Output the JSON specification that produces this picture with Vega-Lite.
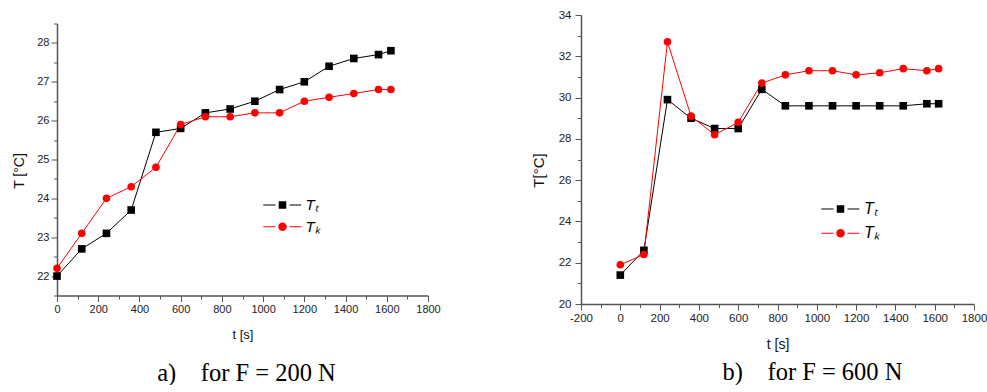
{
  "$schema": "https://vega.github.io/schema/vega-lite/v6.json",
  "padding": {"left": 12, "top": 9, "right": 0, "bottom": 0},
  "datasets": {
    "a": [
      {"t": 0, "T": 22.0, "series": "Tₜ"}, {"t": 120, "T": 22.7, "series": "Tₜ"}, {"t": 240, "T": 23.1, "series": "Tₜ"},
      {"t": 360, "T": 23.7, "series": "Tₜ"}, {"t": 480, "T": 25.7, "series": "Tₜ"}, {"t": 600, "T": 25.8, "series": "Tₜ"},
      {"t": 720, "T": 26.2, "series": "Tₜ"}, {"t": 840, "T": 26.3, "series": "Tₜ"}, {"t": 960, "T": 26.5, "series": "Tₜ"},
      {"t": 1080, "T": 26.8, "series": "Tₜ"}, {"t": 1200, "T": 27.0, "series": "Tₜ"}, {"t": 1320, "T": 27.4, "series": "Tₜ"},
      {"t": 1440, "T": 27.6, "series": "Tₜ"}, {"t": 1560, "T": 27.7, "series": "Tₜ"}, {"t": 1620, "T": 27.8, "series": "Tₜ"},
      {"t": 0, "T": 22.2, "series": "Tₖ"}, {"t": 120, "T": 23.1, "series": "Tₖ"}, {"t": 240, "T": 24.0, "series": "Tₖ"},
      {"t": 360, "T": 24.3, "series": "Tₖ"}, {"t": 480, "T": 24.8, "series": "Tₖ"}, {"t": 600, "T": 25.9, "series": "Tₖ"},
      {"t": 720, "T": 26.1, "series": "Tₖ"}, {"t": 840, "T": 26.1, "series": "Tₖ"}, {"t": 960, "T": 26.2, "series": "Tₖ"},
      {"t": 1080, "T": 26.2, "series": "Tₖ"}, {"t": 1200, "T": 26.5, "series": "Tₖ"}, {"t": 1320, "T": 26.6, "series": "Tₖ"},
      {"t": 1440, "T": 26.7, "series": "Tₖ"}, {"t": 1560, "T": 26.8, "series": "Tₖ"}, {"t": 1620, "T": 26.8, "series": "Tₖ"}
    ],
    "b": [
      {"t": 0, "T": 21.4, "series": "Tₜ"}, {"t": 120, "T": 22.6, "series": "Tₜ"}, {"t": 240, "T": 29.9, "series": "Tₜ"},
      {"t": 360, "T": 29.0, "series": "Tₜ"}, {"t": 480, "T": 28.5, "series": "Tₜ"}, {"t": 600, "T": 28.5, "series": "Tₜ"},
      {"t": 720, "T": 30.4, "series": "Tₜ"}, {"t": 840, "T": 29.6, "series": "Tₜ"}, {"t": 960, "T": 29.6, "series": "Tₜ"},
      {"t": 1080, "T": 29.6, "series": "Tₜ"}, {"t": 1200, "T": 29.6, "series": "Tₜ"}, {"t": 1320, "T": 29.6, "series": "Tₜ"},
      {"t": 1440, "T": 29.6, "series": "Tₜ"}, {"t": 1560, "T": 29.7, "series": "Tₜ"}, {"t": 1620, "T": 29.7, "series": "Tₜ"},
      {"t": 0, "T": 21.9, "series": "Tₖ"}, {"t": 120, "T": 22.4, "series": "Tₖ"}, {"t": 240, "T": 32.7, "series": "Tₖ"},
      {"t": 360, "T": 29.1, "series": "Tₖ"}, {"t": 480, "T": 28.2, "series": "Tₖ"}, {"t": 600, "T": 28.8, "series": "Tₖ"},
      {"t": 720, "T": 30.7, "series": "Tₖ"}, {"t": 840, "T": 31.1, "series": "Tₖ"}, {"t": 960, "T": 31.3, "series": "Tₖ"},
      {"t": 1080, "T": 31.3, "series": "Tₖ"}, {"t": 1200, "T": 31.1, "series": "Tₖ"}, {"t": 1320, "T": 31.2, "series": "Tₖ"},
      {"t": 1440, "T": 31.4, "series": "Tₖ"}, {"t": 1560, "T": 31.3, "series": "Tₖ"}, {"t": 1620, "T": 31.4, "series": "Tₖ"}
    ]
  },
  "bounds": "flush",
  "center": true,
  "spacing": 153,
  "hconcat": [
    {
      "width": 371,
      "height": 272,
      "data": {"name": "a"},
      "title": {"text": "a)\u00a0\u00a0\u00a0\u00a0for F = 200 N", "orient": "bottom", "offset": 20, "dx": 4, "font": "Liberation Serif", "fontSize": 24.5, "fontWeight": "normal", "color": "#000"},
      "encoding": {
        "x": {"field": "t", "type": "quantitative", "scale": {"domain": [0, 1800], "nice": false, "zero": false},
          "axis": {"values": [0,100,200,300,400,500,600,700,800,900,1000,1100,1200,1300,1400,1500,1600,1700,1800],
            "labelExpr": "datum.value % 200 === 0 ? '' + datum.value : ''",
            "tickSize": {"condition": {"test": "datum.value % 200 === 0", "value": 6}, "value": 3.5},
            "labelPadding": 2, "labelFontSize": 11, "title": "t [s]", "titleFontSize": 13, "titlePadding": 14}},
        "y": {"field": "T", "type": "quantitative", "scale": {"domain": [21.5, 28.5], "nice": false, "zero": false},
          "axis": {"values": [21.5,22,22.5,23,23.5,24,24.5,25,25.5,26,26.5,27,27.5,28,28.5],
            "labelExpr": "datum.value % 1 === 0 ? '' + datum.value : ''",
            "tickSize": {"condition": {"test": "datum.value % 1 === 0", "value": 6}, "value": 3.5},
            "labelPadding": 2, "labelFontSize": 11, "title": "T [°C]", "titleFontSize": 14, "titlePadding": 10, "titleY": 147}}
      },
      "layer": [
        {"mark": {"type": "line", "strokeWidth": 1},
          "encoding": {"color": {"field": "series", "type": "nominal", "scale": {"domain": ["Tₜ", "Tₖ"], "range": ["#000000", "#ff0000"]}, "legend": null}}},
        {"mark": {"type": "point", "filled": true, "size": 58, "opacity": 1},
          "encoding": {
            "color": {"field": "series", "type": "nominal", "scale": {"domain": ["Tₜ", "Tₖ"], "range": ["#000000", "#ff0000"]}, "legend": null},
            "shape": {"field": "series", "type": "nominal", "scale": {"domain": ["Tₜ", "Tₖ"], "range": ["square", "circle"]}, "legend": null}}},
        {"transform": [{"filter": "false"}],
          "mark": {"type": "point", "filled": true, "size": 64, "opacity": 1},
          "encoding": {
            "color": {"field": "series", "type": "nominal", "scale": {"domain": ["Tₜ", "Tₖ"], "range": ["#000000", "#ff0000"]},
              "legend": {"orient": "none", "legendX": 218, "legendY": 174, "title": null, "padding": 0, "symbolSize": 64, "symbolStrokeWidth": 0, "labelOffset": 15.5, "rowPadding": 5.7, "labelFont": "Liberation Sans", "labelFontStyle": "italic", "labelFontSize": 15, "labelColor": "#000"}},
            "shape": {"field": "series", "type": "nominal", "scale": {"domain": ["Tₜ", "Tₖ"], "range": [
              "M-4.8,-0.125H-1.75V0.125H-4.8Z M1.75,-0.125H4.7V0.125H1.75Z M-0.94,-0.94H0.94V0.94H-0.94Z",
              "M-4.8,-0.125H-1.75V0.125H-4.8Z M1.75,-0.125H4.7V0.125H1.75Z M-1.06,0A1.06,1.06,0,1,0,1.06,0A1.06,1.06,0,1,0,-1.06,0Z"]},
              "legend": {"orient": "none", "legendX": 218, "legendY": 174, "title": null, "padding": 0, "symbolSize": 64, "symbolStrokeWidth": 0, "labelOffset": 15.5, "rowPadding": 5.7, "labelFont": "Liberation Sans", "labelFontStyle": "italic", "labelFontSize": 15, "labelColor": "#000"}}}}
      ],
      "resolve": {"scale": {"color": "independent", "shape": "independent"}}
    },
    {
      "width": 393,
      "height": 289,
      "data": {"name": "b"},
      "title": {"text": "b)\u00a0\u00a0\u00a0\u00a0for F = 600 N", "orient": "bottom", "offset": 9, "dx": 35, "font": "Liberation Serif", "fontSize": 24.5, "fontWeight": "normal", "color": "#000"},
      "encoding": {
        "x": {"field": "t", "type": "quantitative", "scale": {"domain": [-200, 1800], "nice": false, "zero": false},
          "axis": {"values": [-200,-100,0,100,200,300,400,500,600,700,800,900,1000,1100,1200,1300,1400,1500,1600,1700,1800],
            "labelExpr": "datum.value % 200 === 0 ? '' + datum.value : ''",
            "tickSize": {"condition": {"test": "datum.value % 200 === 0", "value": 6}, "value": 3.5},
            "labelPadding": 2, "labelFontSize": 11.5, "title": "t [s]", "titleFontSize": 14, "titlePadding": 14}},
        "y": {"field": "T", "type": "quantitative", "scale": {"domain": [20, 34], "nice": false, "zero": false},
          "axis": {"values": [20,21,22,23,24,25,26,27,28,29,30,31,32,33,34],
            "labelExpr": "datum.value % 2 === 0 ? '' + datum.value : ''",
            "tickSize": {"condition": {"test": "datum.value % 2 === 0", "value": 6}, "value": 3.5},
            "labelPadding": 4, "labelFontSize": 11.5, "title": "T[°C]", "titleFontSize": 15, "titlePadding": 12, "titleY": 155}}
      },
      "layer": [
        {"mark": {"type": "line", "strokeWidth": 1},
          "encoding": {"color": {"field": "series", "type": "nominal", "scale": {"domain": ["Tₜ", "Tₖ"], "range": ["#000000", "#ff0000"]}, "legend": null}}},
        {"mark": {"type": "point", "filled": true, "size": 58, "opacity": 1},
          "encoding": {
            "color": {"field": "series", "type": "nominal", "scale": {"domain": ["Tₜ", "Tₖ"], "range": ["#000000", "#ff0000"]}, "legend": null},
            "shape": {"field": "series", "type": "nominal", "scale": {"domain": ["Tₜ", "Tₖ"], "range": ["square", "circle"]}, "legend": null}}},
        {"transform": [{"filter": "false"}],
          "mark": {"type": "point", "filled": true, "size": 64, "opacity": 1},
          "encoding": {
            "color": {"field": "series", "type": "nominal", "scale": {"domain": ["Tₜ", "Tₖ"], "range": ["#000000", "#ff0000"]},
              "legend": {"orient": "none", "legendX": 251.5, "legendY": 186, "title": null, "padding": 0, "symbolSize": 64, "symbolStrokeWidth": 0, "labelOffset": 15.5, "rowPadding": 8.3, "labelFont": "Liberation Sans", "labelFontStyle": "italic", "labelFontSize": 16, "labelColor": "#000"}},
            "shape": {"field": "series", "type": "nominal", "scale": {"domain": ["Tₜ", "Tₖ"], "range": [
              "M-4.8,-0.125H-1.75V0.125H-4.8Z M1.75,-0.125H4.7V0.125H1.75Z M-0.94,-0.94H0.94V0.94H-0.94Z",
              "M-4.8,-0.125H-1.75V0.125H-4.8Z M1.75,-0.125H4.7V0.125H1.75Z M-1.06,0A1.06,1.06,0,1,0,1.06,0A1.06,1.06,0,1,0,-1.06,0Z"]},
              "legend": {"orient": "none", "legendX": 251.5, "legendY": 186, "title": null, "padding": 0, "symbolSize": 64, "symbolStrokeWidth": 0, "labelOffset": 15.5, "rowPadding": 8.3, "labelFont": "Liberation Sans", "labelFontStyle": "italic", "labelFontSize": 16, "labelColor": "#000"}}}}
      ],
      "resolve": {"scale": {"color": "independent", "shape": "independent"}}
    }
  ],
  "config": {
    "view": {"stroke": null},
    "background": "#ffffff",
    "axis": {
      "grid": false,
      "domainColor": "#555555",
      "domainWidth": 1.5,
      "tickColor": "#555555",
      "tickWidth": 1,
      "labelColor": "#222222",
      "labelFont": "Liberation Sans",
      "titleFont": "Liberation Sans",
      "titleFontWeight": "normal",
      "titleColor": "#111111",
      "labelOverlap": false,
      "labelFlush": false
    }
  }
}
